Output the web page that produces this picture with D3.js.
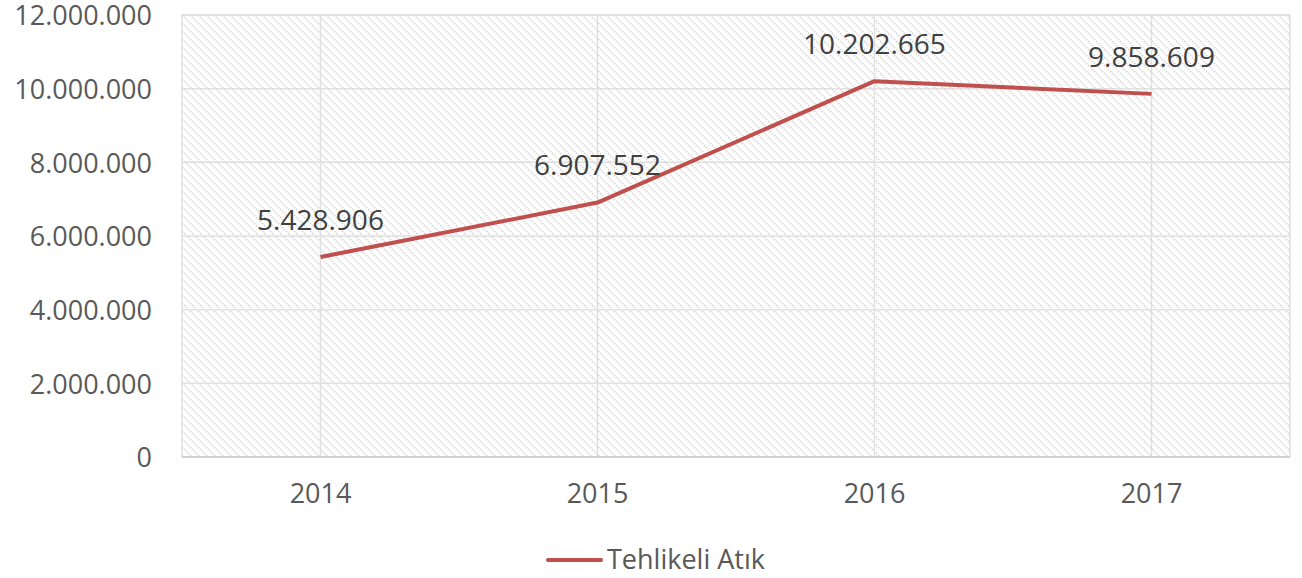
<!DOCTYPE html>
<html>
<head>
<meta charset="utf-8">
<script src="https://cdn.jsdelivr.net/npm/d3@7"></script>
<style>
  body { margin: 0; background: #fff; }
  svg { display: block; font-family: 'Open Sans', sans-serif; }
</style>
</head>
<body>
<div id="chart"></div>
<script>
const years = ['2014', '2015', '2016', '2017']
const values = [5428906, 6907552, 10202665, 9858609]
const yTicks = [0, 2000000, 4000000, 6000000, 8000000, 10000000, 12000000]
const seriesName = 'Tehlikeli Atık'

const W = 1302, H = 578
const margin = { top: 15, right: 12, bottom: 121, left: 182 },
  width = W - margin.left - margin.right,
  height = H - margin.top - margin.bottom

const fmt = (v) => d3.format(',')(v).replace(/,/g, '.')

const svg = d3.select('#chart').append('svg')
  .attr('width', W).attr('height', H)

// hatch pattern
const defs = svg.append('defs')
const pat = defs.append('pattern')
  .attr('id', 'hatch')
  .attr('patternUnits', 'userSpaceOnUse')
  .attr('width', 8).attr('height', 8)
pat.append('path')
  .attr('d', 'M0,0 L8,8 M-2,6 L2,10 M6,-2 L10,2')
  .attr('stroke', '#d2d2d2')
  .attr('stroke-width', 1.5)
  .attr('stroke-dasharray', '1.6,1.2')

const g = svg.append('g').attr('transform', `translate(${margin.left},${margin.top})`)

const x = d3.scaleBand().domain(years).range([0, width])
const y = d3.scaleLinear().domain([0, 12000000]).range([height, 0])

g.append('rect')
  .attr('width', width).attr('height', height)
  .attr('fill', 'url(#hatch)')

// horizontal gridlines
g.selectAll('.hgrid').data(yTicks).join('line')
  .attr('x1', 0).attr('x2', width)
  .attr('y1', (d) => y(d)).attr('y2', (d) => y(d))
  .attr('stroke', '#e0e0e0').attr('stroke-width', 1.5)

// vertical gridlines at category centers
g.selectAll('.vgrid').data(years).join('line')
  .attr('x1', (d) => x(d) + x.bandwidth() / 2).attr('x2', (d) => x(d) + x.bandwidth() / 2)
  .attr('y1', 0).attr('y2', height)
  .attr('stroke', '#e0e0e0').attr('stroke-width', 1.5)

// border
g.append('path')
  .attr('d', `M0,${height} V0 H${width} V${height}`)
  .attr('fill', 'none').attr('stroke', '#e0e0e0').attr('stroke-width', 1.5)
g.append('line')
  .attr('x1', 0).attr('x2', width).attr('y1', height).attr('y2', height)
  .attr('stroke', '#d0d0d0').attr('stroke-width', 1.8)

// Y axis labels
const yAxis = g.append('g')
  .call(d3.axisLeft(y).tickValues(yTicks).tickFormat(fmt).tickSize(0).tickPadding(30))
yAxis.select('.domain').remove()
yAxis.selectAll('text')
  .attr('fill', '#595959')
  .attr('dy', '0.36em')
  .style('font-size', '27px')
  .style('font-family', "'Open Sans', sans-serif")

// X axis labels
const xAxis = g.append('g')
  .attr('transform', `translate(0,${height})`)
  .call(d3.axisBottom(x).tickSize(0).tickPadding(27))
xAxis.select('.domain').remove()
xAxis.selectAll('text')
  .attr('fill', '#595959')
  .style('font-size', '27px')
  .style('font-family', "'Open Sans', sans-serif")

const data = years.map((d, i) => ({ year: d, value: values[i] }))

// line
const line = d3.line()
  .x((d) => x(d.year) + x.bandwidth() / 2)
  .y((d) => y(d.value))
g.append('path')
  .datum(data)
  .attr('d', line)
  .attr('fill', 'none')
  .attr('stroke', '#c0504d')
  .attr('stroke-width', 4)
  .attr('stroke-linejoin', 'round')

// data labels
g.selectAll('.lbl').data(data).join('text')
  .attr('x', (d) => x(d.year) + x.bandwidth() / 2)
  .attr('y', (d) => y(d.value) - 37)
  .attr('dy', '0.35em')
  .attr('text-anchor', 'middle')
  .attr('fill', '#404040')
  .style('font-size', '28px')
  .text((d) => fmt(d.value))

// legend
const leg = svg.append('g').attr('transform', 'translate(548,560)')
leg.append('line')
  .attr('x1', 0).attr('x2', 53).attr('y1', 0).attr('y2', 0)
  .attr('stroke', '#c0504d').attr('stroke-width', 4).attr('stroke-linecap', 'round')
leg.append('text')
  .attr('x', 59).attr('y', 0).attr('dy', '0.35em')
  .attr('fill', '#595959')
  .style('font-size', '27px')
  .text(seriesName)
</script>
</body>
</html>
